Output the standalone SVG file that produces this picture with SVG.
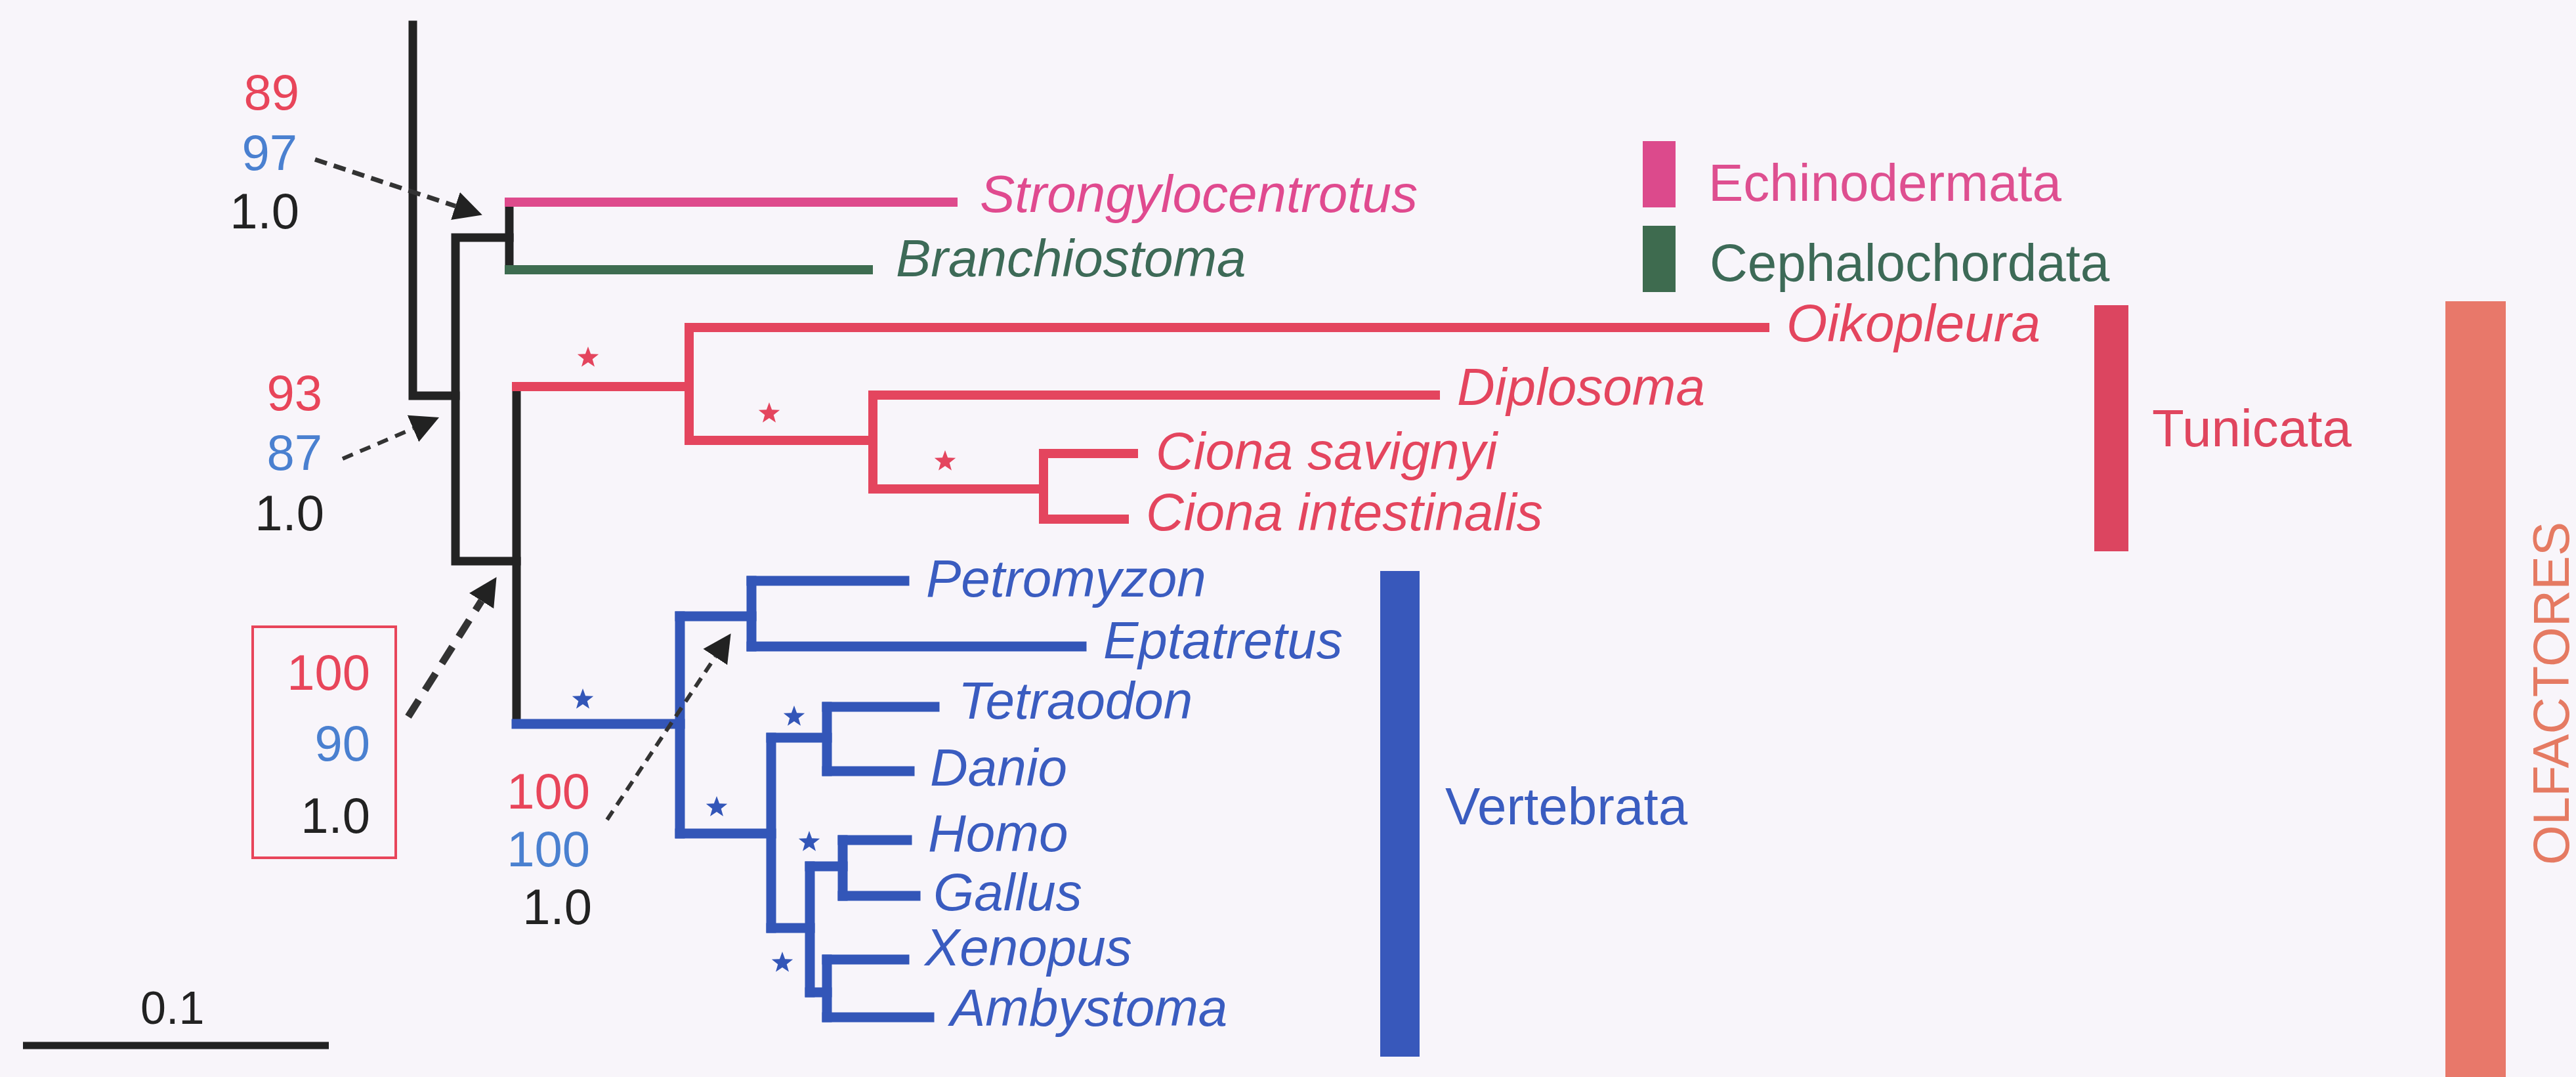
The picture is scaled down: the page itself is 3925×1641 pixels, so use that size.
<svg xmlns="http://www.w3.org/2000/svg" xmlns:xlink="http://www.w3.org/1999/xlink" width="3925" height="1641" viewBox="0 0 3925 1641">
<defs>
<style>
.t{font-family:"Liberation Sans",Arial,Helvetica,sans-serif;}
.sp{font-family:"Liberation Sans",Arial,Helvetica,sans-serif;font-style:italic;font-size:80px;}
.grp{font-family:"Liberation Sans",Arial,Helvetica,sans-serif;font-size:80px;}
.num{font-family:"Liberation Sans",Arial,Helvetica,sans-serif;font-size:76px;text-anchor:end;}
.br{fill:none;stroke-linecap:square;stroke-linejoin:miter;}
.blk{stroke:#232323;stroke-width:13;}
.pnk{stroke:#de4a8c;stroke-width:14;}
.grn{stroke:#3e6c50;stroke-width:14;}
.red{stroke:#e4455e;stroke-width:14;}
.blu{stroke:#3356b8;stroke-width:15;}
.dash{fill:none;stroke:#333;}
.cr{fill:#e8455a;}
.cb{fill:#4a80d0;}
.ck{fill:#222;}
</style>
<path id="star" d="M0,-17 L4.1,-5.7 L16.2,-5.3 L6.7,2.2 L10,13.8 L0,7 L-10,13.8 L-6.7,2.2 L-16.2,-5.3 L-4.1,-5.7 Z"/>
<marker id="ah" markerUnits="userSpaceOnUse" markerWidth="46" markerHeight="46" viewBox="0 -23 46 46" refX="0" refY="0" orient="auto">
<path d="M0,-22 L43,0 L0,22 Z" fill="#222"/>
</marker>
</defs>
<rect x="0" y="0" width="3925" height="1641" fill="#f8f5fa"/>

<g id="connectors">
<g id="branches" class="br">
<path class="blk" d="M629,38 V603 H694"/>
<path class="blk" d="M776,362 H694 V855 H787"/>
<path class="blk" d="M776,308 V411"/>
<path class="blk" d="M787,589 V1103"/>
<path class="pnk" d="M776,308 H1452"/>
<path class="grn" d="M776,411 H1323"/>
<path class="red" d="M787,589 H1050"/>
<path class="red" d="M1050,499 V671"/>
<path class="red" d="M1050,499 H2689"/>
<path class="red" d="M1050,671 H1330"/>
<path class="red" d="M1330,602 V745"/>
<path class="red" d="M1330,602 H2187"/>
<path class="red" d="M1330,745 H1590"/>
<path class="red" d="M1590,691 V791"/>
<path class="red" d="M1590,691 H1727"/>
<path class="red" d="M1590,791 H1713"/>
<path class="blu" d="M787,1103 H1036"/>
<path class="blu" d="M1036,939 V1270"/>
<path class="blu" d="M1036,939 H1145"/>
<path class="blu" d="M1145,885 V985"/>
<path class="blu" d="M1145,885 H1378"/>
<path class="blu" d="M1145,985 H1648"/>
<path class="blu" d="M1036,1270 H1175"/>
<path class="blu" d="M1175,1124 V1414"/>
<path class="blu" d="M1175,1124 H1260"/>
<path class="blu" d="M1260,1077 V1175"/>
<path class="blu" d="M1260,1077 H1424"/>
<path class="blu" d="M1260,1175 H1386"/>
<path class="blu" d="M1175,1414 H1234"/>
<path class="blu" d="M1234,1320 V1512"/>
<path class="blu" d="M1234,1320 H1284"/>
<path class="blu" d="M1284,1280 V1365"/>
<path class="blu" d="M1284,1280 H1382"/>
<path class="blu" d="M1284,1365 H1395"/>
<path class="blu" d="M1234,1512 H1260"/>
<path class="blu" d="M1260,1462 V1550"/>
<path class="blu" d="M1260,1462 H1378"/>
<path class="blu" d="M1260,1550 H1416"/>
</g>
<g id="arrows">
<path class="dash" d="M480,243 L694,314" stroke-width="7" stroke-dasharray="19 11" marker-end="url(#ah)"/>
<path class="dash" d="M522,699 L629.5,653" stroke-width="6" stroke-dasharray="17 12" marker-end="url(#ah)"/>
<path class="dash" d="M622,1092 L733.6,915.5" stroke-width="11" stroke-dasharray="30 18" marker-end="url(#ah)"/>
<path class="dash" d="M925,1249 L1089.8,1001" stroke-width="6" stroke-dasharray="16 11" marker-end="url(#ah)"/>
</g>
</g>

<g id="stars">
<use xlink:href="#star" x="896" y="545" fill="#e4455e"/>
<use xlink:href="#star" x="1172" y="630" fill="#e4455e"/>
<use xlink:href="#star" x="1440" y="703" fill="#e4455e"/>
<use xlink:href="#star" x="888" y="1066" fill="#3356b8"/>
<use xlink:href="#star" x="1210" y="1092" fill="#3356b8"/>
<use xlink:href="#star" x="1092" y="1230" fill="#3356b8"/>
<use xlink:href="#star" x="1233" y="1283" fill="#3356b8"/>
<use xlink:href="#star" x="1192" y="1467" fill="#3356b8"/>
</g>

<g id="leaf-strongylocentrotus"><text class="sp" x="1493" y="323" fill="#e04a8f">Strongylocentrotus</text></g>
<g id="leaf-branchiostoma"><text class="sp" x="1365" y="421" fill="#3d6a57">Branchiostoma</text></g>
<g id="leaf-oikopleura"><text class="sp" x="2722" y="520" fill="#e4455e">Oikopleura</text></g>
<g id="leaf-diplosoma"><text class="sp" x="2220" y="617" fill="#e4455e">Diplosoma</text></g>
<g id="leaf-ciona-savignyi"><text class="sp" x="1761" y="715" fill="#e4455e">Ciona savignyi</text></g>
<g id="leaf-ciona-intestinalis"><text class="sp" x="1746" y="808" fill="#e4455e">Ciona intestinalis</text></g>
<g id="leaf-petromyzon"><text class="sp" x="1411" y="909" fill="#3a5cc0">Petromyzon</text></g>
<g id="leaf-eptatretus"><text class="sp" x="1681" y="1003" fill="#3a5cc0">Eptatretus</text></g>
<g id="leaf-tetraodon"><text class="sp" x="1460" y="1095" fill="#3a5cc0">Tetraodon</text></g>
<g id="leaf-danio"><text class="sp" x="1417" y="1197" fill="#3a5cc0">Danio</text></g>
<g id="leaf-homo"><text class="sp" x="1414" y="1297" fill="#3a5cc0">Homo</text></g>
<g id="leaf-gallus"><text class="sp" x="1422" y="1387" fill="#3a5cc0">Gallus</text></g>
<g id="leaf-xenopus"><text class="sp" x="1409" y="1471" fill="#3a5cc0">Xenopus</text></g>
<g id="leaf-ambystoma"><text class="sp" x="1448" y="1563" fill="#3a5cc0">Ambystoma</text></g>

<g id="clade-echinodermata">
<rect x="2503" y="215" width="50" height="101" fill="#dc4a8c"/>
<text class="grp" x="2603" y="306" fill="#de4f90">Echinodermata</text>
</g>
<g id="clade-cephalochordata">
<rect x="2503" y="344" width="50" height="101" fill="#3e6b4f"/>
<text class="grp" x="2605" y="428" fill="#3d6a57">Cephalochordata</text>
</g>
<g id="clade-tunicata">
<rect x="3191" y="465" width="52" height="375" fill="#dc4560"/>
<text class="grp" x="3279" y="680" fill="#e0455e">Tunicata</text>
</g>
<g id="clade-vertebrata">
<rect x="2103" y="870" width="60" height="740" fill="#3858bb"/>
<text class="grp" x="2202" y="1256" fill="#3a5cc0">Vertebrata</text>
</g>
<g id="clade-olfactores">
<rect x="3726" y="459" width="92" height="1190" fill="#e8786a"/>
<text class="t" transform="translate(3914,1318) rotate(-90)" font-size="78" fill="#e57a62">OLFACTORES</text>
</g>

<g id="support-1">
<text class="num cr" x="456" y="167">89</text>
<text class="num cb" x="453" y="259">97</text>
<text class="num ck" x="456" y="348">1.0</text>
</g>
<g id="support-2">
<text class="num cr" x="491" y="625">93</text>
<text class="num cb" x="491" y="716">87</text>
<text class="num ck" x="494" y="808">1.0</text>
</g>
<g id="support-3">
<rect x="385" y="955" width="218" height="352" fill="none" stroke="#e8455a" stroke-width="4"/>
<text class="num cr" x="564" y="1051">100</text>
<text class="num cb" x="564" y="1159">90</text>
<text class="num ck" x="564" y="1269">1.0</text>
</g>
<g id="support-4">
<text class="num cr" x="899" y="1232">100</text>
<text class="num cb" x="899" y="1320">100</text>
<text class="num ck" x="902" y="1408">1.0</text>
</g>

<g id="scale-bar">
<line x1="35" y1="1593" x2="501" y2="1593" stroke="#222" stroke-width="11"/>
<text class="t" x="214" y="1560" font-size="70" fill="#222">0.1</text>
</g>
</svg>
